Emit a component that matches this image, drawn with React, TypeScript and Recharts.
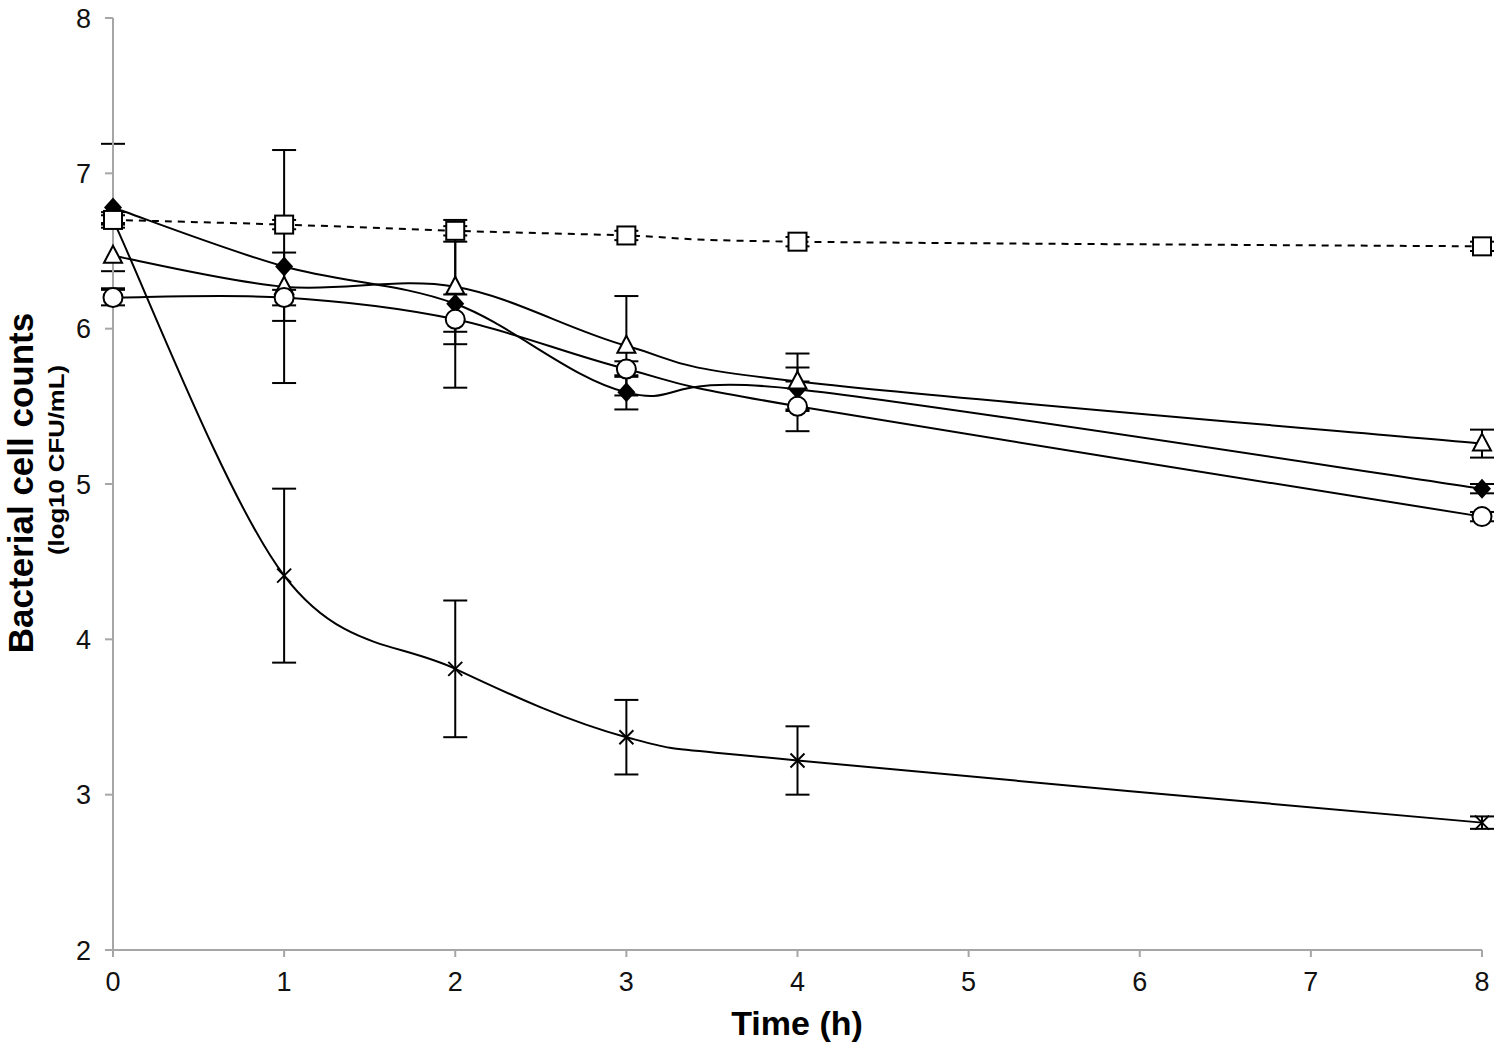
import React from 'react'
import { LineChart, Line, XAxis, YAxis, ErrorBar, Label } from 'recharts'

document.body.style.margin = '0'

// sampling times (h)
const times = [0, 1, 2, 3, 4, 8]

// log10 CFU/mL
const squareVals = [6.7, 6.67, 6.63, 6.6, 6.56, 6.53]
const squareErr = [0.03, 0.03, 0.03, 0.03, 0.03, 0.03]
const diamondVals = [6.78, 6.4, 6.16, 5.59, 5.61, 4.97]
const diamondErr = [0.41, 0.75, 0.54, 0.11, 0.14, 0.03]
const triangleVals = [6.47, 6.27, 6.27, 5.89, 5.66, 5.26]
const triangleErr = [0.21, 0.22, 0.29, 0.32, 0.18, 0.09]
const circleVals = [6.2, 6.2, 6.06, 5.74, 5.5, 4.79]
const circleErr = [0.05, 0.05, 0.16, 0.05, 0.16, 0.03]
const crossVals = [6.7, 4.41, 3.81, 3.37, 3.22, 2.82]
const crossErr = [0.05, 0.56, 0.44, 0.24, 0.22, 0.04]

const xTicks = [0, 1, 2, 3, 4, 5, 6, 7, 8]
const yTicks = [2, 3, 4, 5, 6, 7, 8]

const data = times.map((t, i) => ({
  t,
  square: squareVals[i],
  squareErr: squareErr[i],
  diamond: diamondVals[i],
  diamondErr: diamondErr[i],
  triangle: triangleVals[i],
  triangleErr: triangleErr[i],
  circle: circleVals[i],
  circleErr: circleErr[i],
  cross: crossVals[i],
  crossErr: crossErr[i],
}))

const font = 'Arial, "Liberation Sans", sans-serif'
const axisGray = '#a6a6a6'

// Excel-like smoothed line (Catmull-Rom through the points)
const excelSmooth = (context: any) => {
  let pts: number[][] = []
  return {
    areaStart() {},
    areaEnd() {},
    lineStart() {
      pts = []
    },
    point(x: number, y: number) {
      pts.push([+x, +y])
    },
    lineEnd() {
      const n = pts.length
      if (!n) return
      context.moveTo(pts[0][0], pts[0][1])
      if (n === 2) {
        context.lineTo(pts[1][0], pts[1][1])
        return
      }
      for (let i = 0; i < n - 1; i++) {
        const p0 = pts[i - 1] || pts[i]
        const p1 = pts[i]
        const p2 = pts[i + 1]
        const p3 = pts[i + 2] || pts[i + 1]
        context.bezierCurveTo(
          p1[0] + (p2[0] - p0[0]) / 6,
          p1[1] + (p2[1] - p0[1]) / 6,
          p2[0] - (p3[0] - p1[0]) / 6,
          p2[1] - (p3[1] - p1[1]) / 6,
          p2[0],
          p2[1]
        )
      }
    },
  }
}

const SquareDot = (props: any) => {
  const { cx, cy, index } = props
  return <rect key={`sq${index}`} x={cx - 9} y={cy - 9} width={18} height={18} fill="#fff" stroke="#000" strokeWidth={2} />
}

const DiamondDot = (props: any) => {
  const { cx, cy, index } = props
  return (
    <polygon
      key={`di${index}`}
      points={`${cx},${cy - 10} ${cx + 9},${cy} ${cx},${cy + 10} ${cx - 9},${cy}`}
      fill="#000"
    />
  )
}

const TriangleDot = (props: any) => {
  const { cx, cy, index } = props
  return (
    <polygon
      key={`tr${index}`}
      points={`${cx},${cy - 10} ${cx + 9},${cy + 7} ${cx - 9},${cy + 7}`}
      fill="#fff"
      stroke="#000"
      strokeWidth={2}
    />
  )
}

const CircleDot = (props: any) => {
  const { cx, cy, index } = props
  return <circle key={`ci${index}`} cx={cx} cy={cy} r={9.5} fill="#fff" stroke="#000" strokeWidth={2} />
}

const CrossDot = (props: any) => {
  const { cx, cy, index } = props
  return (
    <g key={`cr${index}`} stroke="#000" strokeWidth={2}>
      <line x1={cx - 7} y1={cy - 7} x2={cx + 7} y2={cy + 7} />
      <line x1={cx - 7} y1={cy + 7} x2={cx + 7} y2={cy - 7} />
    </g>
  )
}

const YTitle = () => (
  <g fontFamily={font} fontWeight="bold" fill="#000">
    <text x={33} y={483} transform="rotate(-90 33 483)" textAnchor="middle" fontSize={35}>
      Bacterial cell counts
    </text>
    <text
      x={64}
      y={460}
      transform="rotate(-90 64 460)"
      textAnchor="middle"
      fontSize={22}
      textLength={190}
      lengthAdjust="spacingAndGlyphs"
    >
      (log10 CFU/mL)
    </text>
  </g>
)

const XTitle = () => (
  <text x={797} y={1035} textAnchor="middle" fontFamily={font} fontWeight="bold" fontSize={34} fill="#000">
    Time (h)
  </text>
)

const errProps = { width: 12, stroke: '#000', strokeWidth: 2, direction: 'y' as const }

export default function App() {
  return (
    <LineChart width={1500} height={1051} data={data} margin={{ top: 18, right: 18, left: 0, bottom: 0 }}>
      <XAxis
        dataKey="t"
        type="number"
        domain={[0, 8]}
        ticks={xTicks}
        height={101}
        stroke={axisGray}
        strokeWidth={2}
        tickSize={7}
        tick={{ fill: '#111', fontSize: 27, fontFamily: font, dy: 13 }}
      >
        <Label content={<XTitle />} />
      </XAxis>
      <YAxis
        type="number"
        domain={[2, 8]}
        ticks={yTicks}
        width={113}
        stroke={axisGray}
        strokeWidth={2}
        tickSize={8}
        tick={{ fill: '#111', fontSize: 27, fontFamily: font, dx: -12 }}
      >
        <Label content={<YTitle />} />
      </YAxis>
      <Line dataKey="diamond" type={excelSmooth as any} stroke="#000" strokeWidth={2} dot={DiamondDot} activeDot={false} isAnimationActive={false}>
        <ErrorBar dataKey="diamondErr" {...errProps} />
      </Line>
      <Line dataKey="triangle" type={excelSmooth as any} stroke="#000" strokeWidth={2} dot={TriangleDot} activeDot={false} isAnimationActive={false}>
        <ErrorBar dataKey="triangleErr" {...errProps} />
      </Line>
      <Line dataKey="circle" type={excelSmooth as any} stroke="#000" strokeWidth={2} dot={CircleDot} activeDot={false} isAnimationActive={false}>
        <ErrorBar dataKey="circleErr" {...errProps} />
      </Line>
      <Line dataKey="cross" type={excelSmooth as any} stroke="#000" strokeWidth={2} dot={CrossDot} activeDot={false} isAnimationActive={false}>
        <ErrorBar dataKey="crossErr" {...errProps} />
      </Line>
      <Line dataKey="square" type={excelSmooth as any} stroke="#000" strokeWidth={2} strokeDasharray="7 6" dot={SquareDot} activeDot={false} isAnimationActive={false}>
        <ErrorBar dataKey="squareErr" {...errProps} />
      </Line>
    </LineChart>
  )
}
